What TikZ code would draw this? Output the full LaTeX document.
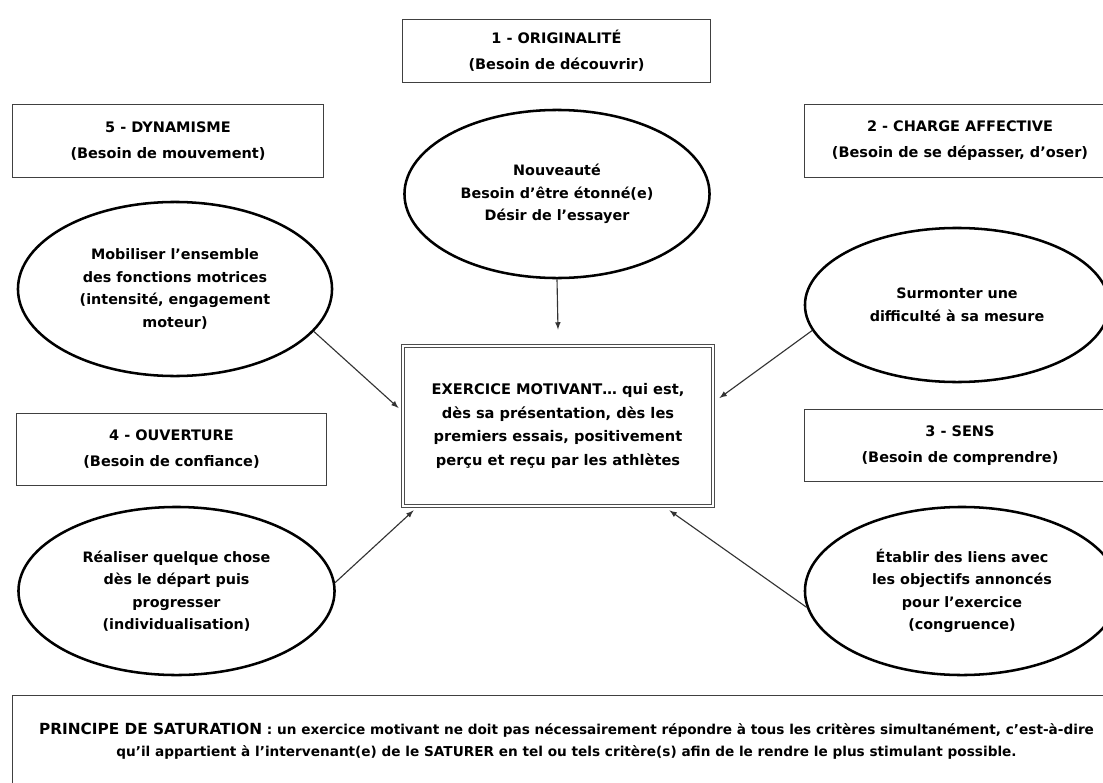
\documentclass[tikz,border=0pt]{standalone}
\usepackage{fontspec}
\setmainfont{DejaVu Sans}
\usetikzlibrary{shapes.geometric,calc}

\begin{document}
\begin{tikzpicture}[x=0.025cm,y=-0.025cm]
\tikzstyle{every node}=[font=\bfseries\fontsize{10.2}{16}\selectfont, align=center, inner sep=0pt]
\tikzstyle{critere}=[draw=black!75, line width=0.7pt, minimum width=7.75cm, minimum height=1.82cm, font=\bfseries\fontsize{10.3}{18.5}\selectfont]
\tikzstyle{besoin}=[ellipse, draw, line width=1.8pt, minimum width=7.85cm, minimum height=4.2cm]
\tikzstyle{fleche}=[-latex, line width=0.8pt, black!80]
\clip (0,0) rectangle (1103,782);
\fill[white] (0,0) rectangle (1103,782);

\node[critere, minimum width=7.675cm, minimum height=1.55cm] (c1) at (556.5,51) {1 - ORIGINALITÉ\\(Besoin de découvrir)};
\node[critere] (c5) at (168,141) {5 - DYNAMISME\\(Besoin de mouvement)};
\node[critere] (c2) at (960,141) {2 - CHARGE AFFECTIVE\\(Besoin de se dépasser, d’oser)};
\node[critere] (c4) at (171.5,449.5) {4 - OUVERTURE\\(Besoin de confiance)};
\node[critere] (c3) at (960,445.5) {3 - SENS\\(Besoin de comprendre)};

\node[besoin, minimum width=7.625cm] (e1) at (557,194) {Nouveauté\\Besoin d’être étonné(e)\\Désir de l’essayer};
\node[besoin, minimum height=4.35cm] (e5) at (175,289) {Mobiliser l’ensemble\\des fonctions motrices\\(intensité, engagement\\moteur)};
\node[besoin, minimum width=7.6cm, minimum height=3.85cm] (e2) at (957,305) {Surmonter une\\difficulté à sa mesure};
\node[besoin, minimum width=7.9cm] (e4) at (176.5,591) {Réaliser quelque chose\\dès le départ puis\\progresser\\(individualisation)};
\node[besoin] (e3) at (962,591) {Établir des liens avec\\les objectifs annoncés\\pour l’exercice\\(congruence)};

\node[draw=black!70, line width=0.6pt, double=white, double distance=1.6pt, minimum width=7.75cm, minimum height=4.0cm, font=\bfseries\fontsize{10.4}{17}\selectfont] (exo) at (558,426) {EXERCICE MOTIVANT… qui est,\\dès sa présentation, dès les\\premiers essais, positivement\\perçu et reçu par les athlètes};

\node[draw=black!75, line width=0.7pt, minimum width=27.7cm, minimum height=2.3cm, font=\bfseries\fontsize{9.7}{16}\selectfont] (principe) at (566.5,741) {{\fontsize{10.9}{16}\selectfont PRINCIPE DE SATURATION} : un exercice motivant ne doit pas nécessairement répondre à tous les critères simultanément, c’est-à-dire\\qu’il appartient à l’intervenant(e) de le SATURER en tel ou tels critère(s) afin de le rendre le plus stimulant possible.};

\draw[fleche] (e1.south) -- ($(exo.north)+(0,-16)$);
\draw[fleche] (e5.-17) -- ($(exo.west)+(-4,-18)$);
\draw[fleche] (e2.-170) -- ($(exo.east)+(6,-28)$);
\draw[fleche] (e4.3) -- ($(exo.south west)+(11,4)$);
\draw[fleche] (e3.-174) -- ($(exo.south east)+(-44,4)$);
\end{tikzpicture}
\end{document}
